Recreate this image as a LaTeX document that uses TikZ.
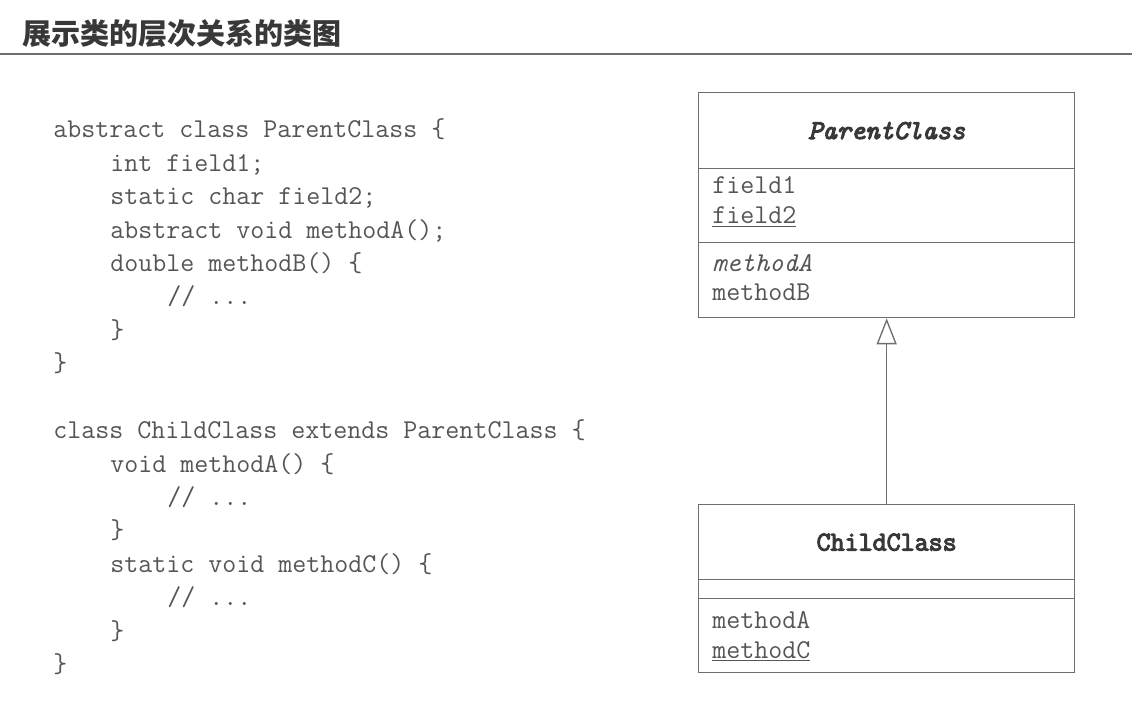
\documentclass[tikz,border=0pt]{standalone}
\usepackage{fontspec}
\newfontfamily\cjkfont{Noto Sans CJK SC}
\newfontfamily\monobold{Latin Modern Mono}[FakeBold=4]
\usepackage{tikz}
\usetikzlibrary{arrows.meta}

\definecolor{inkgray}{HTML}{555555}
\definecolor{linegray}{HTML}{6E6E6E}
\definecolor{titlegray}{HTML}{383838}

\tikzset{
  codeline/.style={anchor=base west, inner sep=0pt, text=inkgray,
    font=\ttfamily\fontsize{20.4}{22}\selectfont},
  classbox/.style={draw=linegray, line width=1pt, minimum width=282pt,
    inner sep=0pt, anchor=north west, text=titlegray,
    font=\monobold\fontsize{20.4}{22}\selectfont},
  member/.style={codeline},
  inherit/.style={draw=linegray, line width=1pt,
    -{Triangle[open, length=19.5pt, width=15pt, fill=white]}}
}

\begin{document}
\begin{tikzpicture}[x=0.75pt,y=0.75pt,yscale=-1,xscale=1]
\useasboundingbox (0,0) rectangle (1132,702);

% Title
\draw (22,33) node [anchor=west, inner sep=0pt, text=titlegray, font=\cjkfont\bfseries\fontsize{21.8}{24}\selectfont] (title) {展示类的层次关系的类图};
%Straight Lines
\draw [color=linegray, line width=1.3pt] (0,54) -- (1132,54) ;

% Code: ParentClass
\draw (53,138) node [codeline] (p0) {abstract class ParentClass \{};
\draw (110,171.4) node [codeline] (p1) {int field1;};
\draw (110,204.8) node [codeline] (p2) {static char field2;};
\draw (110,238.2) node [codeline] (p3) {abstract void methodA();};
\draw (110,271.6) node [codeline] (p4) {double methodB() \{};
\draw (167,305) node [codeline] (p5) {// ...};
\draw (110,338.4) node [codeline] (p6) {\}};
\draw (53,371.8) node [codeline] (p7) {\}};

% Code: ChildClass
\draw (53,438.6) node [codeline] (c0) {class ChildClass extends ParentClass \{};
\draw (110,472) node [codeline] (c1) {void methodA() \{};
\draw (167,505.4) node [codeline] (c2) {// ...};
\draw (110,538.8) node [codeline] (c3) {\}};
\draw (110,572.2) node [codeline] (c4) {static void methodC() \{};
\draw (167,605.6) node [codeline] (c5) {// ...};
\draw (110,639) node [codeline] (c6) {\}};
\draw (53,672.4) node [codeline] (c7) {\}};

% Class box: ParentClass
\draw (698,92) node [classbox, minimum height=57pt] (parenthead) {\itshape ParentClass};
\draw (698,168) node [classbox, minimum height=55.5pt] (parentattr) {};
\draw (698,242) node [classbox, minimum height=56.25pt] (parentops) {};
\draw (712,194) node [member] (field1) {field1};
\draw (712,224) node [member] (field2) {\underline{field2}};
\draw (712,272) node [member] (pmethodA) {\textit{methodA}};
\draw (712,301) node [member] (pmethodB) {methodB};

% Class box: ChildClass
\draw (698,504) node [classbox, minimum height=56.25pt] (childhead) {ChildClass};
\draw (698,579) node [classbox, minimum height=14.25pt] (childattr) {};
\draw (698,598) node [classbox, minimum height=55.5pt] (childops) {};
\draw (712,628) node [member] (cmethodA) {methodA};
\draw (712,658) node [member] (cmethodC) {\underline{methodC}};

%Straight Lines
\draw [inherit] (childhead) -- (parentops) ;

\end{tikzpicture}
\end{document}
